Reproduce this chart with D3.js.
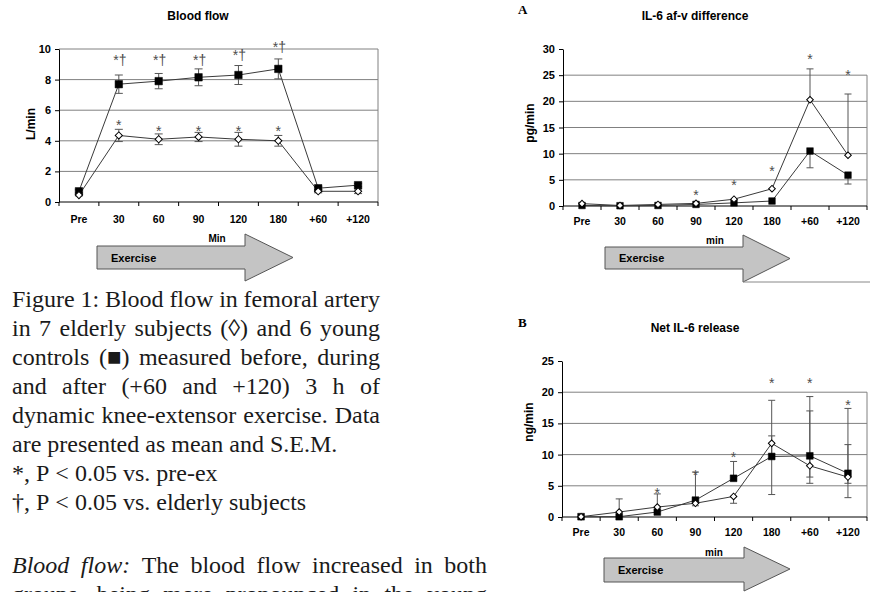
<!DOCTYPE html>
<html>
<head>
<meta charset="utf-8">
<script src="https://cdn.jsdelivr.net/npm/d3@7"></script>
<style>
  body { margin: 0; background: #fff; }
  svg { display: block; }
</style>
</head>
<body>
<svg width="870" height="592"></svg>
<script>
// time points, shared by the three panels
var categories = ["Pre", "30", "60", "90", "120", "180", "+60", "+120"];

// Blood flow (L/min), mean and S.E.M.
var flowYoung      = [0.7, 7.7, 7.9, 8.15, 8.3, 8.7, 0.9, 1.1];
var flowYoungSem   = [0.1, 0.6, 0.5, 0.55, 0.62, 0.65, 0.1, 0.1];
var flowElderly    = [0.45, 4.35, 4.1, 4.25, 4.1, 4.0, 0.7, 0.7];
var flowElderlySem = [0.05, 0.4, 0.35, 0.3, 0.45, 0.35, 0.1, 0.15];
var flowYoungMark   = [null, 9.5, 9.5, 9.5, 9.8, 10.3, null, null];   // "*†"
var flowElderlyMark = [null, 5.2, 4.85, 4.85, 4.85, 4.85, null, null]; // "*"

// A: IL-6 af-v difference (pg/min)
var avYoung     = [0.1, 0.05, 0.1, 0.3, 0.6, 0.95, 10.5, 5.9];
var avYoungLo   = [null, null, null, null, null, null, 7.3, 4.2];
var avElderly   = [0.45, 0.1, 0.3, 0.5, 1.3, 3.3, 20.3, 9.7];
var avElderlyHi = [null, null, null, null, null, null, 26.2, 21.4];
var avMark      = [null, null, null, 2.7, 4.6, 7.3, 28.7, 25.6];

// B: Net IL-6 release (ng/min)
var netYoung     = [0.05, 0.05, 0.8, 2.7, 6.2, 9.7, 9.8, 7.0];
var netYoungHi   = [null, null, null, 7.2, 8.9, 13.0, 19.3, 17.4];
var netYoungLo   = [null, null, null, null, null, null, 6.4, 5.4];
var netElderly   = [0.05, 0.8, 1.6, 2.2, 3.3, 11.8, 8.2, 6.4];
var netElderlyHi = [null, 2.9, 3.7, null, null, 18.7, 17.0, 11.6];
var netElderlyLo = [null, null, null, 1.8, 2.2, 3.6, 5.4, 3.1];
var netMark      = [null, null, 4.3, 7.2, 10.1, 22, 22, 18.4];

var captionLines = [
  "Figure 1: Blood flow in femoral artery",
  "in 7 elderly subjects (\u25CA) and 6 young",
  "controls (\u25A0) measured before, during",
  "and after (+60 and +120) 3 h of",
  "dynamic knee-extensor exercise. Data",
  "are presented as mean and S.E.M.",
  "*, P < 0.05 vs. pre-ex",
  "\u2020, P < 0.05 vs. elderly subjects"
];
var captionJustified = [true, true, true, true, true, false, false, false];

var svg = d3.select("svg");
svg.append("rect").attr("width", 870).attr("height", 592).attr("fill", "#fff");

var sans = "'Liberation Sans', Arial, sans-serif";
var serif = "'Liberation Serif', 'Times New Roman', serif";

function drawChart(c) {
  var g = svg.append("g")
      .style("font-family", sans)
      .style("font-weight", "bold");

  var x = d3.scaleBand().domain(categories).range([c.left, c.right]);
  var cx = function(i) { return x(categories[i]) + x.bandwidth() / 2; };
  var y = d3.scaleLinear().domain([0, c.yMax]).range([c.bottom, c.top]);

  // gridlines + plot-area border
  g.selectAll(".grid").data(c.grid).enter().append("line")
      .attr("x1", c.left).attr("x2", c.right)
      .attr("y1", y).attr("y2", y)
      .attr("stroke", "#808080");
  g.append("line")
      .attr("x1", c.right).attr("x2", c.right)
      .attr("y1", y(c.boxTop)).attr("y2", y(0))
      .attr("stroke", "#808080");

  // y axis
  var ya = g.append("g")
      .attr("transform", "translate(" + c.left + ",0)")
      .call(d3.axisLeft(y).tickValues(c.ticks).tickSize(4).tickSizeOuter(0).tickPadding(4));
  ya.selectAll("text").style("font-size", "11px").style("font-family", sans).attr("fill", "#000");
  ya.select(".domain").attr("stroke", "#000");

  // x axis
  g.append("line")
      .attr("x1", c.left).attr("x2", c.right)
      .attr("y1", y(0)).attr("y2", y(0))
      .attr("stroke", "#000");
  var edges = categories.map(function(d) { return x(d); }).concat([c.right]);
  g.selectAll(".xt").data(edges).enter().append("line")
      .attr("x1", function(d) { return d; }).attr("x2", function(d) { return d; })
      .attr("y1", y(0)).attr("y2", y(0) + 4)
      .attr("stroke", "#000");
  g.selectAll(".xl").data(categories).enter().append("text")
      .attr("x", function(d, i) { return cx(i); })
      .attr("y", y(0) + c.xLabelDy)
      .attr("text-anchor", "middle")
      .style("font-size", "10.5px")
      .text(function(d) { return d; });

  // title, y label
  g.append("text")
      .attr("x", c.titleX).attr("y", c.titleY)
      .attr("text-anchor", "middle")
      .style("font-size", "12px")
      .text(c.title);
  g.append("text")
      .attr("transform", "translate(" + c.yLabelX + "," + c.yLabelY + ") rotate(-90)")
      .attr("text-anchor", "middle")
      .attr("dy", "0.35em")
      .style("font-size", "12px")
      .text(c.yLabel);

  // series lines, error bars, markers
  var line = d3.line()
      .x(function(d, i) { return cx(i); })
      .y(function(d) { return y(d); });

  c.series.forEach(function(s) {
    g.append("path")
        .attr("d", line(s.values))
        .attr("fill", "none")
        .attr("stroke", "#3a3a3a")
        .attr("stroke-width", 1);
  });

  c.series.forEach(function(s) {
    s.values.forEach(function(v, i) {
      [s.hi && s.hi[i], s.lo && s.lo[i]].forEach(function(e) {
        if (e == null) return;
        g.append("line")
            .attr("x1", cx(i)).attr("x2", cx(i))
            .attr("y1", y(v)).attr("y2", y(e))
            .attr("stroke", "#555");
        g.append("line")
            .attr("x1", cx(i) - c.cap).attr("x2", cx(i) + c.cap)
            .attr("y1", y(e)).attr("y2", y(e))
            .attr("stroke", "#555");
      });
    });
  });

  c.series.forEach(function(s) {
    g.selectAll(null).data(s.values).enter().append("path")
        .attr("transform", function(d, i) {
          return "translate(" + cx(i) + "," + y(d) + ")" + (s.filled ? "" : " rotate(45)");
        })
        .attr("d", d3.symbol().type(d3.symbolSquare).size(s.filled ? c.sqSize : c.dmSize)())
        .attr("fill", s.filled ? "#000" : "#fff")
        .attr("stroke", "#000")
        .attr("stroke-width", s.filled ? 0.5 : 1);
  });

  // significance marks
  c.marks.forEach(function(m) {
    m.levels.forEach(function(lv, i) {
      if (lv == null) return;
      g.append("text")
          .attr("x", cx(i) + (m.dx || 0)).attr("y", y(lv) + 8)
          .attr("text-anchor", "middle")
          .style("font-size", "14px")
          .style("font-weight", "normal")
          .attr("fill", "#4d4d4d")
          .text(m.label);
    });
  });

  // exercise arrow
  var a = c.arrow;
  g.append("polygon")
      .attr("points", [
        [a.x0, a.bt], [a.xh, a.bt], [a.xh, a.ht], [a.tip, (a.ht + a.hb) / 2],
        [a.xh, a.hb], [a.xh, a.bb], [a.x0, a.bb]
      ].map(function(p) { return p.join(","); }).join(" "))
      .attr("fill", "#c4c4c4")
      .attr("stroke", "#555")
      .attr("stroke-width", 1);
  g.append("text")
      .attr("x", a.x0 + 14).attr("y", (a.bt + a.bb) / 2 + 4)
      .style("font-size", "11px")
      .text("Exercise");
  g.append("text")
      .attr("x", c.minX).attr("y", c.minY)
      .attr("text-anchor", "middle")
      .style("font-size", "10px")
      .text(c.minLabel);
  if (a.rule) {
    g.append("line")
        .attr("x1", a.xh).attr("x2", 870)
        .attr("y1", a.hb).attr("y2", a.hb)
        .attr("stroke", "#888");
  }
}

function ends(values, sem, sign) {
  return values.map(function(v, i) { return v + sign * sem[i]; });
}

drawChart({
  left: 59, right: 378, top: 49, bottom: 202,
  yMax: 10, ticks: [0, 2, 4, 6, 8, 10], grid: [2, 4, 6, 8, 10], boxTop: 10,
  title: "Blood flow", titleX: 198, titleY: 20,
  yLabel: "L/min", yLabelX: 31, yLabelY: 124,
  xLabelDy: 21, cap: 4, sqSize: 56, dmSize: 26,
  series: [
    { values: flowYoung, hi: ends(flowYoung, flowYoungSem, 1), lo: ends(flowYoung, flowYoungSem, -1), filled: true },
    { values: flowElderly, hi: ends(flowElderly, flowElderlySem, 1), lo: ends(flowElderly, flowElderlySem, -1), filled: false }
  ],
  marks: [
    { levels: flowYoungMark, label: "*\u2020", dx: 1 },
    { levels: flowElderlyMark, label: "*" }
  ],
  arrow: { x0: 97, xh: 245, tip: 293, bt: 246, bb: 269, ht: 234, hb: 281 },
  minLabel: "Min", minX: 217, minY: 242
});

drawChart({
  left: 563, right: 867, top: 49, bottom: 206,
  yMax: 30, ticks: [0, 5, 10, 15, 20, 25, 30], grid: [5, 10, 15, 20, 25], boxTop: 25,
  title: "IL-6 af-v difference", titleX: 695, titleY: 20,
  yLabel: "pg/min", yLabelX: 530, yLabelY: 123,
  xLabelDy: 19, cap: 3.5, sqSize: 44, dmSize: 22,
  series: [
    { values: avYoung, lo: avYoungLo, filled: true },
    { values: avElderly, hi: avElderlyHi, filled: false }
  ],
  marks: [{ levels: avMark, label: "*" }],
  arrow: { x0: 605, xh: 743, tip: 790, bt: 247, bb: 269, ht: 235, hb: 282, rule: true },
  minLabel: "min", minX: 715, minY: 244
});

drawChart({
  left: 562, right: 867, top: 361, bottom: 517,
  yMax: 25, ticks: [0, 5, 10, 15, 20, 25], grid: [5, 10, 15, 20], boxTop: 20,
  title: "Net IL-6 release", titleX: 695, titleY: 332,
  yLabel: "ng/min", yLabelX: 529, yLabelY: 422,
  xLabelDy: 19, cap: 3.5, sqSize: 46, dmSize: 22,
  series: [
    { values: netYoung, hi: netYoungHi, lo: netYoungLo, filled: true },
    { values: netElderly, hi: netElderlyHi, lo: netElderlyLo, filled: false }
  ],
  marks: [{ levels: netMark, label: "*" }],
  arrow: { x0: 604, xh: 744, tip: 790, bt: 558, bb: 582, ht: 547, hb: 591 },
  minLabel: "min", minX: 714, minY: 556
});

// panel letters
svg.append("text").attr("x", 518).attr("y", 14)
    .style("font-family", serif).style("font-weight", "bold").style("font-size", "13px").text("A");
svg.append("text").attr("x", 518).attr("y", 327)
    .style("font-family", serif).style("font-weight", "bold").style("font-size", "13px").text("B");

// caption and body text, justified word by word
var textG = svg.append("g")
    .style("font-family", serif)
    .style("font-size", "24px")
    .attr("fill", "#1a1a1a");

function setLine(words, x0, x1, yb, justified) {
  var t = textG.append("text").attr("y", yb);
  var spans = words.map(function(w) {
    return t.append("tspan").style("font-style", w.i ? "italic" : null).text(w.t);
  });
  var widths = spans.map(function(s) { return s.node().getComputedTextLength(); });
  var gap = justified ? (x1 - x0 - d3.sum(widths)) / (words.length - 1) : 6;
  var px = x0;
  spans.forEach(function(s, i) { s.attr("x", px); px += widths[i] + gap; });
}

captionLines.forEach(function(l, i) {
  var words = l.split(" ").map(function(w) { return { t: w }; });
  setLine(words, 12, 380, 307 + i * 29, captionJustified[i]);
});

setLine([{ t: "Blood", i: true }, { t: "flow:", i: true }].concat(
  "The blood flow increased in both".split(" ").map(function(w) { return { t: w }; })), 12, 487, 573, true);
setLine("groups, being more pronounced in the young".split(" ").map(function(w) { return { t: w }; }),
  12, 487, 602, true);
</script>
</body>
</html>
